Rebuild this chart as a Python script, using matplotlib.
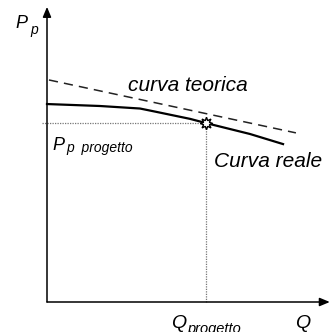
import matplotlib as mpl
mpl.use('Agg')
import matplotlib.pyplot as plt

# portata Q e prevalenza P (unita' arbitrarie del diagramma)
q_reale = [0.0, 1.89, 3.32, 3.86, 5.11, 5.68, 7.25, 8.43]
p_reale = [7.07, 7.00, 6.91, 6.80, 6.54, 6.39, 6.00, 5.64]
q_teorica = [0.07, 8.89]
p_teorica = [7.93, 6.04]
q_progetto = 5.68
p_progetto = 6.39

plt.rcParams['font.family'] = ['Liberation Sans', 'DejaVu Sans']

fig = plt.figure(figsize=(3.31, 3.32), dpi=100)
ax = fig.add_axes([0, 0, 1, 1])
ax.set_xlim(-47/28., 284/28.)
ax.set_ylim(-30/28., 302/28.)
ax.axis('off')

# assi con freccia
arrow = dict(arrowstyle='-|>,head_length=0.6,head_width=0.25', color='black', lw=1.1,
             shrinkA=0, shrinkB=0)
ax.annotate('', xy=(0, 10.54), xytext=(0, 0), arrowprops=arrow)
ax.annotate('', xy=(10.1, 0), xytext=(0, 0), arrowprops=arrow)

# linee di riferimento del punto di progetto
ax.plot([-0.18, q_progetto], [p_progetto, p_progetto], color='#777777', lw=0.9, ls=(0, (1, 1)))
ax.plot([q_progetto, q_progetto], [0, p_progetto], color='#777777', lw=0.9, ls=(0, (1, 1)))

ax.plot(q_teorica, p_teorica, color='#222222', lw=1.1, ls=(0, (6, 4)))
ax.plot(q_reale, p_reale, color='black', lw=1.6)
ax.plot([q_progetto], [p_progetto], marker=(8, 1, 0), ms=9, mfc='white', mec='black', mew=1.0)

def txt(x, y, s, size):
    fig.text(x/331., 1 - y/332., s, fontsize=size, style='italic', va='baseline', ha='left')

txt(15, 28.5, 'P', 13)
txt(30, 34, 'p', 10)
txt(128, 91, 'curva teorica', 15)
txt(52, 150, 'P', 13)
txt(66, 152, 'p  progetto', 10)
txt(214, 167, 'Curva reale', 15)
txt(171, 328.5, 'Q', 14)
txt(187, 333, 'progetto', 10.5)
txt(295, 328.5, 'Q', 14)

plt.savefig('out.png', dpi=100)
